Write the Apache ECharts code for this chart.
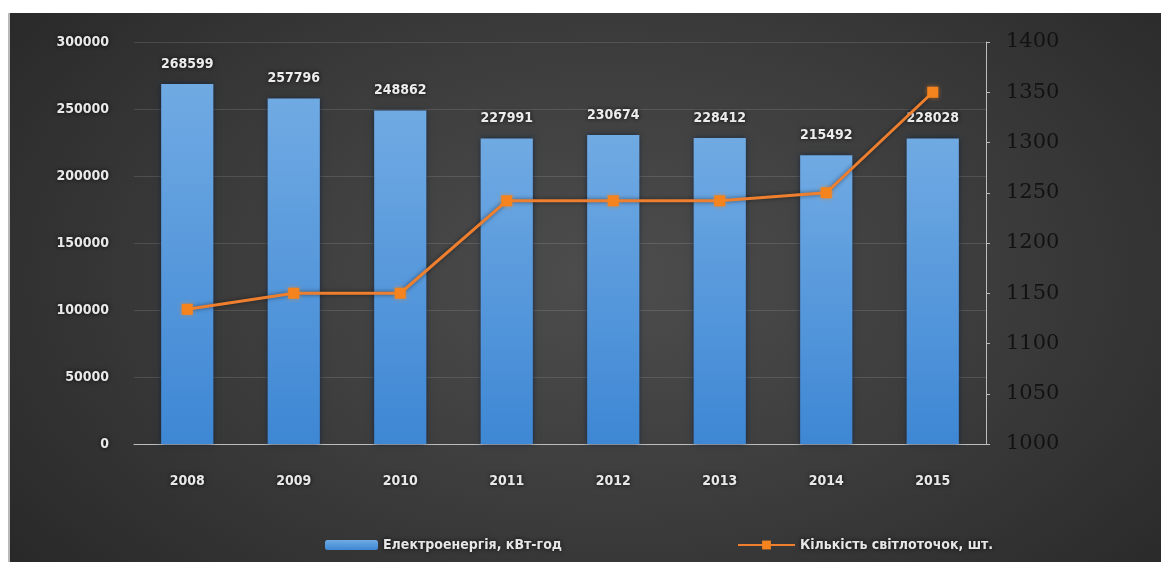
<!DOCTYPE html>
<html>
<head>
<meta charset="utf-8">
<script src="https://cdn.jsdelivr.net/npm/echarts@6/dist/echarts.min.js"></script>
<style>
  html, body { margin: 0; padding: 0; background: #ffffff; }
  #bg {
    position: absolute; left: 8px; top: 13px; width: 1153px; height: 549px;
    border-left: 2px solid #b9b9b9;
    box-sizing: border-box;
    background: radial-gradient(ellipse 70% 90% at 52% 48%, #4d4d4d 0%, #3d3d3d 45%, #262626 100%);
  }
  #chart { position: absolute; left: 0; top: 0; width: 1161px; height: 562px; }
</style>
</head>
<body>
<div id="bg"></div>
<div id="chart"></div>
<script>
// Річні показники вуличного освітлення
const years = ['2008', '2009', '2010', '2011', '2012', '2013', '2014', '2015'];
const energyKwh = [268599, 257796, 248862, 227991, 230674, 228412, 215492, 228028];
const lightPoints = [1134, 1150, 1150, 1242, 1242, 1242, 1250, 1350];
const energyName = 'Електроенергія, кВт-год';
const pointsName = 'Кількість світлоточок, шт.';

const sansFont = "'DejaVu Sans Condensed', 'DejaVu Sans', sans-serif";
const glow = { textShadowColor: 'rgba(0,0,0,0.85)', textShadowBlur: 4 };
const plain = v => String(v);

const chart = echarts.init(document.getElementById('chart'), null, { renderer: 'canvas' });

chart.setOption({
  backgroundColor: 'transparent',
  animation: false,
  grid: { left: 134, right: 175, top: 42, bottom: 118 },
  legend: [
    {
      data: [energyName],
      left: 320, top: 533,
      itemWidth: 53, itemHeight: 10, itemGap: 8,
      textStyle: Object.assign({ color: '#e6e6e6', fontFamily: sansFont, fontWeight: 'bold', fontSize: 14 }, glow)
    },
    {
      data: [pointsName],
      left: 732, top: 533,
      itemWidth: 57, itemHeight: 11, itemGap: 8,
      textStyle: Object.assign({ color: '#e6e6e6', fontFamily: sansFont, fontWeight: 'bold', fontSize: 14 }, glow)
    }
  ],
  xAxis: {
    type: 'category',
    data: years,
    axisLine: { lineStyle: { color: '#bdbdbd', width: 1 } },
    axisTick: { show: false },
    axisLabel: Object.assign({ color: '#e8e8e8', fontFamily: sansFont, fontWeight: 'bold', fontSize: 14, margin: 30 }, glow)
  },
  yAxis: [
    {
      type: 'value',
      min: 0, max: 300000, interval: 50000,
      axisLine: { show: false },
      axisTick: { show: false },
      splitLine: { lineStyle: { color: 'rgba(255,255,255,0.12)', width: 1 } },
      axisLabel: Object.assign({ formatter: plain, color: '#e8e8e8', fontFamily: sansFont, fontWeight: 'bold', fontSize: 14, margin: 25 }, glow)
    },
    {
      type: 'value',
      position: 'right',
      min: 1000, max: 1400, interval: 50,
      axisLine: { show: true, lineStyle: { color: '#bdbdbd', width: 1 } },
      axisTick: { show: true, length: 4, lineStyle: { color: '#bdbdbd' } },
      splitLine: { show: false },
      axisLabel: {
        formatter: v => '{d|' + v + '}',
        margin: 20,
        rich: {
          d: { color: '#121212', fontFamily: "'DejaVu Serif', serif", fontSize: 21 }
        }
      }
    }
  ],
  series: [
    {
      name: energyName,
      type: 'bar',
      yAxisIndex: 0,
      data: energyKwh,
      barWidth: '49%',
      itemStyle: {
        color: new echarts.graphic.LinearGradient(0, 0, 0, 1, [
          { offset: 0, color: '#70aae3' },
          { offset: 1, color: '#3e87d4' }
        ]),
        shadowColor: 'rgba(10,30,60,0.7)',
        shadowBlur: 6
      },
      label: Object.assign({
        show: true, position: 'top', distance: 13,
        color: '#ececec', fontFamily: sansFont, fontWeight: 'bold', fontSize: 14
      }, glow)
    },
    {
      name: pointsName,
      type: 'line',
      yAxisIndex: 1,
      data: lightPoints,
      symbol: 'rect',
      symbolSize: 11,
      lineStyle: { color: '#ee7f2f', width: 3, shadowColor: 'rgba(0,0,0,0.5)', shadowBlur: 4 },
      itemStyle: { color: '#f5841f', shadowColor: 'rgba(245,132,31,0.6)', shadowBlur: 4 },
      z: 3
    }
  ]
});
</script>
</body>
</html>
